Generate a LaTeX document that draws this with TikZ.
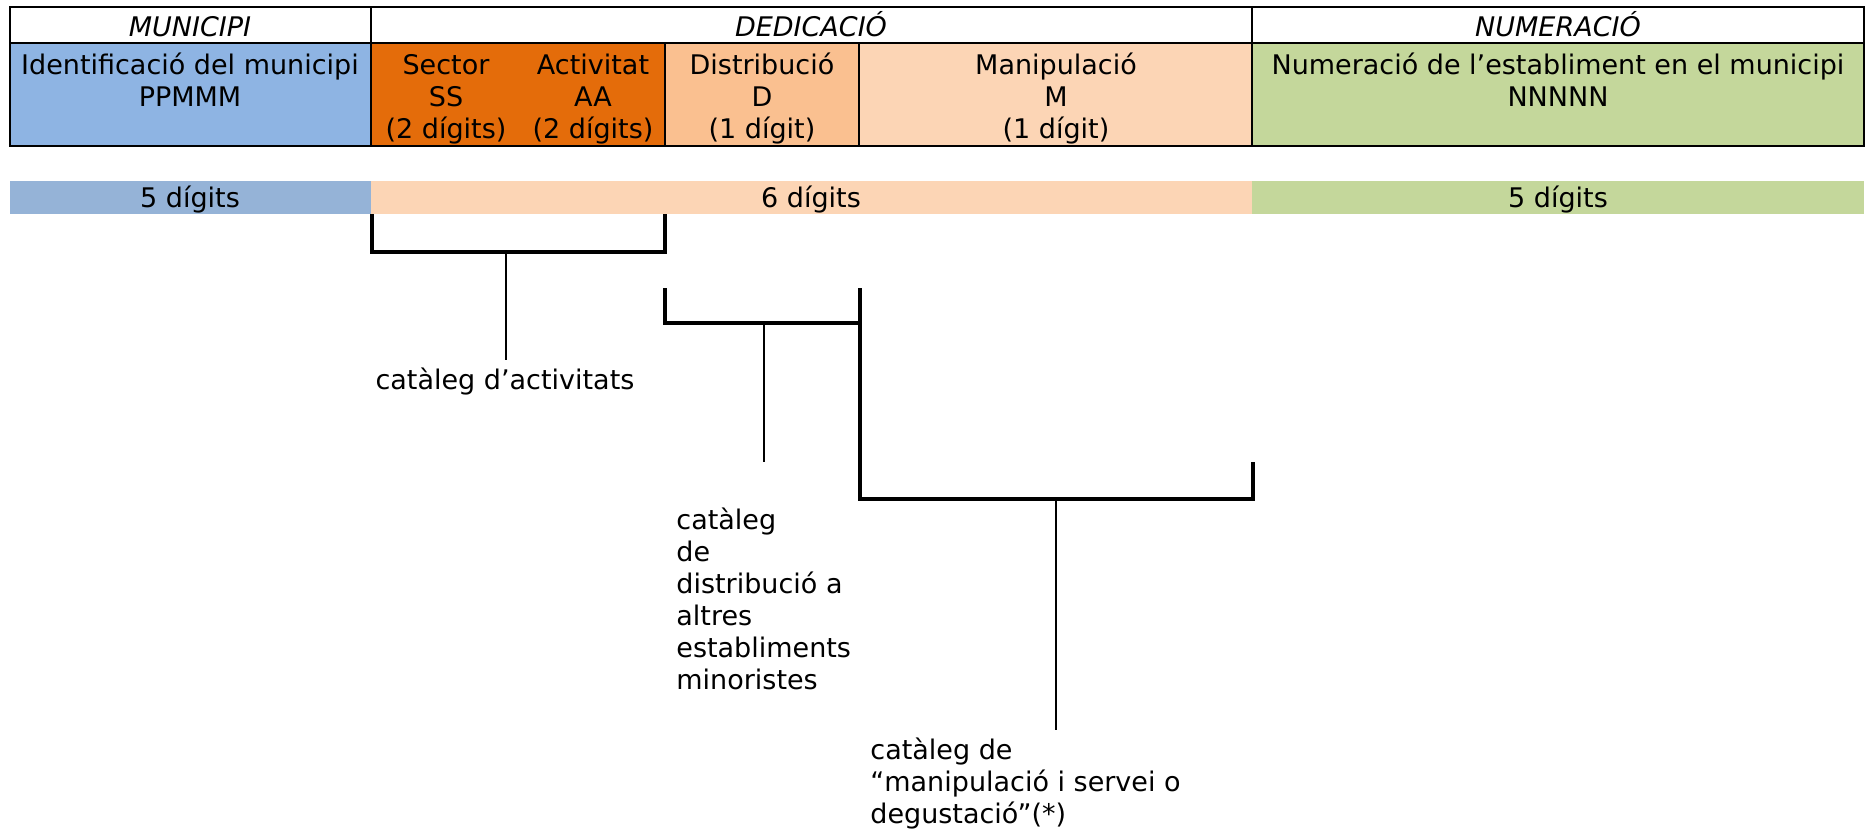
\documentclass[tikz,border=0pt]{standalone}
\usepackage{fontspec}
\setmainfont{DejaVu Sans}
\definecolor{cblue}{HTML}{8EB4E3}
\definecolor{bblue}{HTML}{95B3D7}
\definecolor{corange}{HTML}{E46C0A}
\definecolor{cdist}{HTML}{FAC090}
\definecolor{cmanip}{HTML}{FCD5B5}
\definecolor{cgreen}{HTML}{C4D79B}
\begin{document}
\begin{tikzpicture}[x=0.5pt,y=-0.5pt,
  every node/.style={font=\fontsize{13.5}{16}\selectfont, inner sep=0pt},
  txt/.style={anchor=base},
  hdr/.style={anchor=base, font=\fontsize{13.5}{16}\selectfont\itshape},
  lbl/.style={anchor=base west, align=left},
  gridline/.style={line width=1.35pt},
  brk/.style={line width=1.55pt},
  stem/.style={line width=1.15pt}]
\useasboundingbox (0,0) rectangle (1870,830);
% cells
\fill[cblue] (10,43) rectangle (371,146);
\fill[corange] (371,43) rectangle (665,146);
\fill[cdist] (665,43) rectangle (859,146);
\fill[cmanip] (859,43) rectangle (1252,146);
\fill[cgreen] (1252,43) rectangle (1864,146);
% borders
\draw[gridline] (10,7) rectangle (1864,146);
\draw[gridline] (10,43) -- (1864,43);
\draw[gridline] (371,7) -- (371,146);
\draw[gridline] (1252,7) -- (1252,146);
\draw[gridline] (665,43) -- (665,146);
\draw[gridline] (859,43) -- (859,146);
% headers
\node[hdr] (hmun) at (190,36) {MUNICIPI};
\node[hdr] (hded) at (811,36) {DEDICACIÓ};
\node[hdr] (hnum) at (1558,36) {NUMERACIÓ};
% cell texts
\node[txt] (mun1) at (190,74) {Identificació del municipi};
\node[txt] (mun2) at (190,106) {PPMMM};
\node[txt] (sec1) at (446,74) {Sector};
\node[txt] (sec2) at (446,106) {SS};
\node[txt] (sec3) at (446,138) {(2 dígits)};
\node[txt] (act1) at (593,74) {Activitat};
\node[txt] (act2) at (593,106) {AA};
\node[txt] (act3) at (593,138) {(2 dígits)};
\node[txt] (dis1) at (762,74) {Distribució};
\node[txt] (dis2) at (762,106) {D};
\node[txt] (dis3) at (762,138) {(1 dígit)};
\node[txt] (man1) at (1056,74) {Manipulació};
\node[txt] (man2) at (1056,106) {M};
\node[txt] (man3) at (1056,138) {(1 dígit)};
\node[txt] (num1) at (1558,74) {Numeració de l’establiment en el municipi};
\node[txt] (num2) at (1558,106) {NNNNN};
% digit bar
\fill[bblue] (10,181) rectangle (371,214);
\fill[cmanip] (371,181) rectangle (1252,214);
\fill[cgreen] (1252,181) rectangle (1864,214);
\node[txt] (b1) at (190,207) {5 dígits};
\node[txt] (b2) at (811,207) {6 dígits};
\node[txt] (b3) at (1558,207) {5 dígits};
% coordinates
\coordinate (a1) at (372,214);
\coordinate (a2) at (665,214);
\coordinate (d1) at (665,288);
\coordinate (d2) at (860,288);
\coordinate (m1) at (860,462);
\coordinate (m2) at (1253,462);
% brackets
\draw[brk] (a1) -- (372,252) -- (665,252) -- (a2);
\draw[brk] (d1) -- (665,323) -- (860,323);
\draw[brk] (d2) -- (m1);
\draw[brk] (m1) -- (860,499) -- (1253,499) -- (m2);
% labels
\node[txt] (l1) at (505,389) {catàleg d’activitats};
\node[lbl] (l2) at (676,689) {catàleg\\de\\distribució a\\altres\\establiments\\minoristes};
\node[lbl] (l3) at (870,823) {catàleg de\\“manipulació i servei o\\degustació”(*)};
% stems
\draw[stem] (506,252) -- (506,360);
\draw[stem] (764,323) -- (764,462);
\draw[stem] (1056,499) -- (1056,730);
\end{tikzpicture}
\end{document}
